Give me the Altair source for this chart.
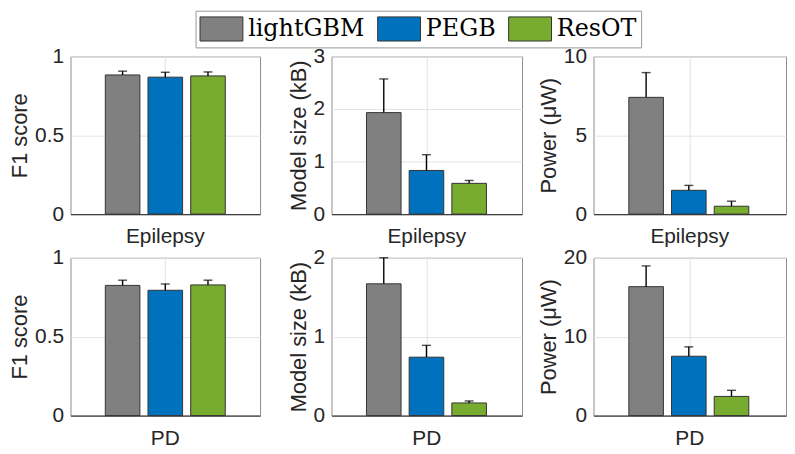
import altair as alt
import pandas as pd

models = ["lightGBM", "PEGB", "ResOT"]
colors = ["#808080", "#0072BD", "#77AC30"]

# Epilepsy (top row)
f1_epi = [0.882, 0.868, 0.876]
f1_epi_up = [0.906, 0.899, 0.901]
size_epi = [1.93, 0.83, 0.585]
size_epi_up = [2.57, 1.13, 0.64]
power_epi = [7.40, 1.51, 0.50]
power_epi_up = [8.97, 1.82, 0.82]

# PD (bottom row)
f1_pd = [0.825, 0.794, 0.828]
f1_pd_up = [0.858, 0.834, 0.858]
size_pd = [1.67, 0.74, 0.16]
size_pd_up = [2.0, 0.89, 0.185]
power_pd = [16.34, 7.52, 2.43]
power_pd_up = [18.97, 8.71, 3.2]

TXT = "#262626"

legend = alt.Legend(
    title=None, orient="none", legendX=126, legendY=-46, direction="horizontal",
    symbolType="M-1,-0.9H2.2V0.9H-1Z", symbolSize=729, symbolStrokeColor="#333333",
    symbolStrokeWidth=1, symbolOpacity=1, labelFont="DejaVu Serif", labelFontSize=24,
    labelColor="black", labelOffset=21, columnPadding=10, padding=4,
    strokeColor="#999999", fillColor="white", labelLimit=300,
)


def panel(dataset, values, uppers, title, domain, ticks, width):
    df = pd.DataFrame({"dataset": dataset, "model": models, "value": values, "upper": uppers})
    base = alt.Chart(df).encode(
        x=alt.X("dataset:N", title=None,
                scale=alt.Scale(paddingOuter=0.29, paddingInner=0),
                axis=alt.Axis(labelAngle=0, ticks=False, grid=True, bandPosition=0.5,
                              labelPadding=12, domainColor="#404040", domainWidth=1.2)),
        xOffset=alt.XOffset("model:N", sort=models,
                            scale=alt.Scale(paddingInner=0.19, paddingOuter=0)),
    )
    yax = alt.Axis(values=ticks, title=title, grid=True, domain=False, ticks=False,
                   labelPadding=7, titlePadding=3, labelExpr="'' + datum.value")
    bars = base.mark_bar(stroke="#333333", strokeWidth=1).encode(
        y=alt.Y("value:Q", scale=alt.Scale(domain=domain, nice=False), axis=yax),
        color=alt.Color("model:N", sort=models,
                        scale=alt.Scale(domain=models, range=colors), legend=legend),
    )
    rule = base.mark_rule(color="black", strokeWidth=1.4).encode(y="value:Q", y2="upper:Q")
    cap = base.mark_tick(color="black", size=9, thickness=1.4).encode(y="upper:Q")
    return alt.layer(bars, rule, cap).properties(width=width, height=159)


panels = [
    panel("Epilepsy", f1_epi, f1_epi_up, "F1 score", [0, 1], [0, 0.5, 1], 191),
    panel("Epilepsy", size_epi, size_epi_up, "Model size (kB)", [0, 3], [0, 1, 2, 3], 192),
    panel("Epilepsy", power_epi, power_epi_up, "Power (μW)", [0, 10], [0, 5, 10], 194),
    panel("PD", f1_pd, f1_pd_up, "F1 score", [0, 1], [0, 0.5, 1], 191),
    panel("PD", size_pd, size_pd_up, "Model size (kB)", [0, 2], [0, 1, 2], 192),
    panel("PD", power_pd, power_pd_up, "Power (μW)", [0, 20], [0, 10, 20], 194),
]

chart = alt.concat(
    *panels, columns=3, spacing=alt.RowColnumber(row=44, column=72), bounds="flush"
).resolve_scale(
    y="independent", x="independent"
).properties(
    padding=0
).configure(
    font="Liberation Sans", background="white"
).configure_axis(
    labelFontSize=21, titleFontSize=22, titleFontWeight="normal",
    labelColor=TXT, titleColor=TXT, gridColor="#e3e3e3", gridWidth=1,
    labelFont="Liberation Sans", titleFont="Liberation Sans",
).configure_view(
    stroke="#8c8c8c", strokeWidth=1
)

chart.save("out.html", embed_options={"renderer": "svg", "actions": False})
